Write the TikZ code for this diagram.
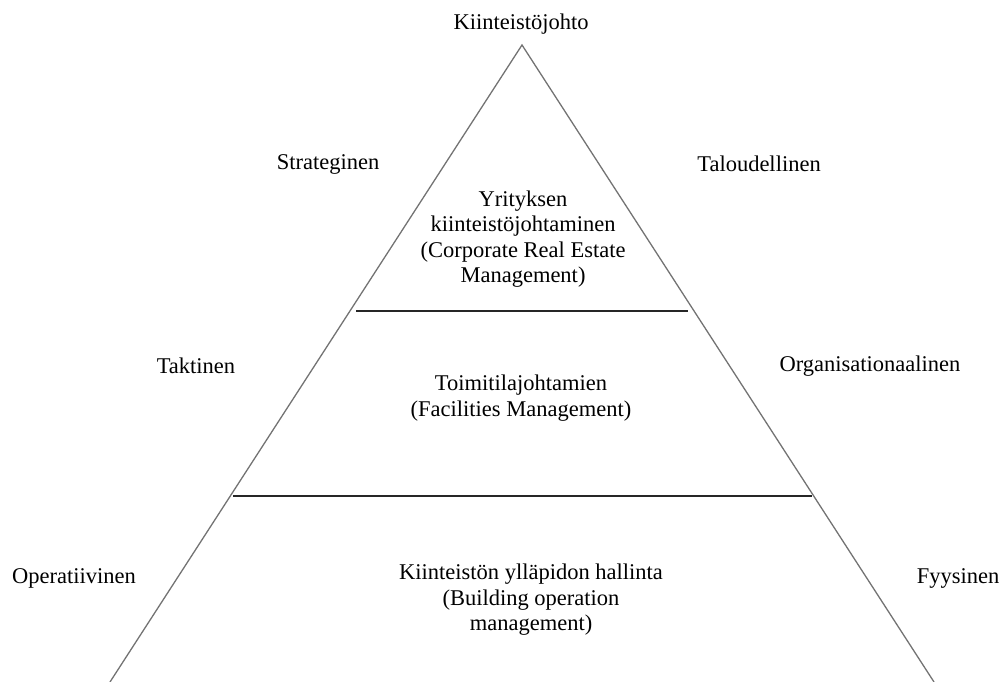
\documentclass[tikz,border=0pt]{standalone}
\usepackage{fontspec}
\setmainfont{Liberation Serif}
\usetikzlibrary{arrows.meta}

\begin{document}
\begin{tikzpicture}[x=1pt,y=1pt,
  lbl/.style={font=\fontsize{22.5}{25.5}\selectfont, align=center, inner sep=0pt},
  side/.style={black!55, line width=1.3pt},
  level/.style={black!85, line width=1.6pt}]
\useasboundingbox (0,0) rectangle (1006,682);
% pyramid
\coordinate (apex) at (522,637);
\coordinate (baseL) at (110,0);
\coordinate (baseR) at (934,0);
\draw[side] (baseL) -- (apex) -- (baseR);
\coordinate (lvlAL) at (356,371);
\coordinate (lvlAR) at (688,371);
\draw[level] (lvlAL) -- (lvlAR);
\coordinate (lvlBL) at (233,186);
\coordinate (lvlBR) at (812,186);
\draw[level] (lvlBL) -- (lvlBR);
% labels
\node[lbl] (top) at (521,658) {Kiinteistöjohto};
\node[lbl] (strat) at (328,518) {Strateginen};
\node[lbl] (talous) at (759,518) {Taloudellinen};
\node[lbl] (crem) at (523,443) {Yrityksen\\kiinteistöjohtaminen\\(Corporate Real Estate\\Management)};
\node[lbl] (takt) at (196,316) {Taktinen};
\node[lbl] (org) at (870,316) {Organisationaalinen};
\node[lbl] (fm) at (521,284) {Toimitilajohtamien\\(Facilities Management)};
\node[lbl] (oper) at (74,104) {Operatiivinen};
\node[lbl] (fyys) at (958,104) {Fyysinen};
\node[lbl] (bom) at (531,82) {Kiinteistön ylläpidon hallinta\\(Building operation\\management)};
\end{tikzpicture}
\end{document}
